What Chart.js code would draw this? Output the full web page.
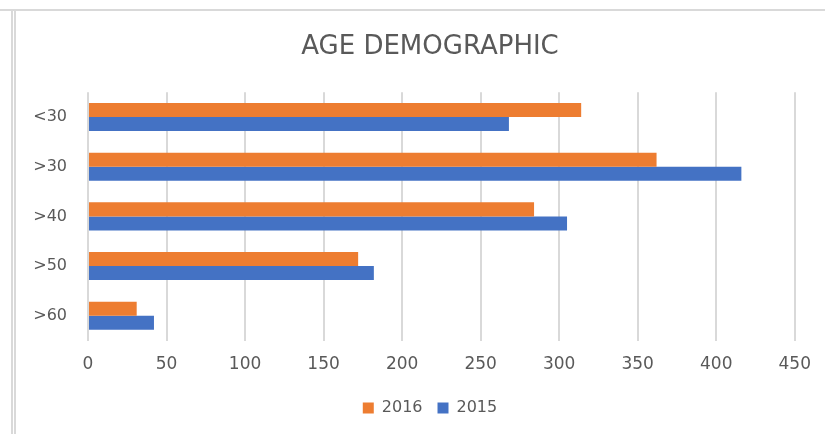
<!DOCTYPE html>
<html>
<head>
<meta charset="utf-8">
<script src="https://cdn.jsdelivr.net/npm/chart.js@4/dist/chart.umd.min.js"></script>
<style>
  html, body { margin: 0; padding: 0; background: #ffffff; }
  #wrap { width: 825px; height: 434px; }
</style>
</head>
<body>
<div id="wrap"><canvas id="c" width="825" height="434"></canvas></div>
<script>
const categories = ['<30', '>30', '>40', '>50', '>60'];
const seriesNames = ['2016', '2015'];
const values2016 = [314, 362, 284, 172, 31];
const values2015 = [268, 416, 305, 182, 42];
const xTicks = [0, 50, 100, 150, 200, 250, 300, 350, 400, 450];

const FONT = "'DejaVu Sans', sans-serif";
const TEXT = '#595959';
const GRID = '#d9d9d9';

const framePlugin = {
  id: 'frame',
  afterLayout(chart) {
    const ys = chart.scales.y;
    if (ys) { ys._computeLabelArea = function () { return undefined; }; }
  },
  beforeDraw(chart) {
    const ctx = chart.ctx;
    ctx.save();
    ctx.fillStyle = '#ffffff';
    ctx.fillRect(0, 0, chart.width, chart.height);
    ctx.strokeStyle = GRID;
    ctx.lineWidth = 2;
    ctx.beginPath();
    ctx.moveTo(0, 10); ctx.lineTo(chart.width, 10);
    ctx.moveTo(12, 10); ctx.lineTo(12, chart.height);
    ctx.moveTo(15, 10); ctx.lineTo(15, chart.height);
    ctx.stroke();
    ctx.restore();
  }
};

new Chart(document.getElementById('c'), {
  type: 'bar',
  data: {
    labels: categories,
    datasets: [
      { label: seriesNames[0], data: values2016, backgroundColor: '#ED7D31', borderWidth: 0 },
      { label: seriesNames[1], data: values2015, backgroundColor: '#4472C4', borderWidth: 0 }
    ]
  },
  options: {
    indexAxis: 'y',
    responsive: false,
    animation: false,
    devicePixelRatio: 1,
    layout: { padding: { left: 64, right: 29, top: 0, bottom: 8 } },
    datasets: { bar: { categoryPercentage: 0.565, barPercentage: 1.0 } },
    plugins: {
      title: {
        display: true,
        text: 'AGE DEMOGRAPHIC',
        color: TEXT,
        font: { family: FONT, size: 26, weight: 'normal' },
        padding: { top: 32, bottom: 29 }
      },
      legend: {
        display: true,
        position: 'bottom',
        labels: {
          color: TEXT,
          font: { family: FONT, size: 16 },
          boxWidth: 11,
          boxHeight: 11,
          padding: 15
        }
      },
      tooltip: { enabled: false }
    },
    scales: {
      x: {
        min: 0,
        max: 450,
        afterBuildTicks(axis) { axis.ticks = xTicks.map(v => ({ value: v })); },
        afterFit(axis) { axis.height = axis.height - 4; },
        grid: { color: GRID, lineWidth: 2, drawTicks: false },
        border: { display: false },
        ticks: { color: TEXT, font: { family: FONT, size: 17 }, padding: 14 }
      },
      y: {
        grid: { display: false, drawTicks: false },
        border: { display: false },
        afterFit(axis) { axis.width = 24; },
        ticks: { color: TEXT, font: { family: FONT, size: 16 }, padding: 21 }
      }
    }
  },
  plugins: [framePlugin]
});
</script>
</body>
</html>
